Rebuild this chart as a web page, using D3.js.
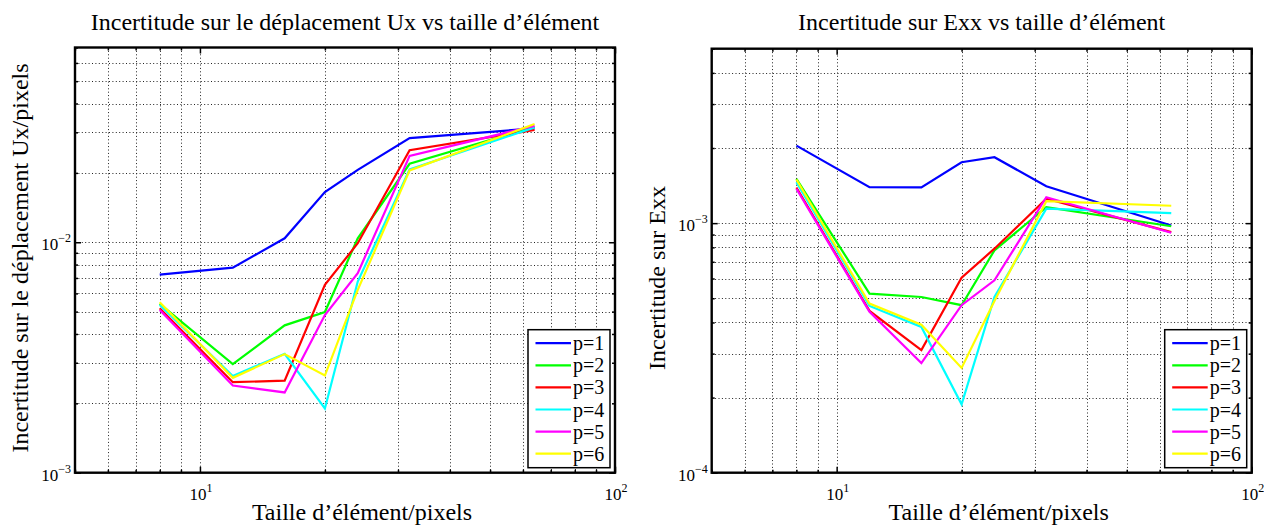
<!DOCTYPE html>
<html><head><meta charset="utf-8">
<script src="https://cdn.jsdelivr.net/npm/d3@7"></script>
<style>
body{margin:0;background:#fff}
svg{display:block}
svg text{font-family:"Liberation Serif","Times New Roman",Times,serif !important;fill:#000}
</style>
</head><body>
<svg id="c" width="1264" height="526" font-family="Liberation Serif"></svg>
<script>
// ---- data ----
const sizes = [8, 12, 16, 20, 24, 32, 64];
const seriesLabels = ["p=1", "p=2", "p=3", "p=4", "p=5", "p=6"];
const seriesColors = ["#0000ff", "#00ff00", "#ff0000", "#00ffff", "#ff00ff", "#ffff00"];

const ux_p1 = [0.00723, 0.00776, 0.0104, 0.0165, 0.0206, 0.0283, 0.0312];
const ux_p2 = [0.0054, 0.00296, 0.00436, 0.00498, 0.0104, 0.0219, 0.0317];
const ux_p3 = [0.00517, 0.00247, 0.00251, 0.00653, 0.0099, 0.0251, 0.0307];
const ux_p4 = [0.00534, 0.00263, 0.00328, 0.0019, 0.00675, 0.0207, 0.0315];
const ux_p5 = [0.00508, 0.00239, 0.00223, 0.00483, 0.00734, 0.0237, 0.032];
const ux_p6 = [0.00549, 0.00258, 0.00327, 0.00264, 0.00621, 0.0205, 0.0326];

const exx_p1 = [0.002045, 0.001393, 0.00139, 0.001754, 0.001837, 0.001406, 0.000979];
const exx_p2 = [0.001505, 0.000522, 0.000506, 0.000469, 0.000778, 0.001159, 0.000972];
const exx_p3 = [0.00139, 0.000445, 0.00031, 0.000605, 0.00079, 0.001252, 0.00092];
const exx_p4 = [0.001459, 0.000466, 0.000384, 0.000188, 0.000506, 0.001142, 0.001096];
const exx_p5 = [0.001373, 0.000441, 0.000275, 0.000469, 0.00059, 0.00127, 0.000915];
const exx_p6 = [0.001495, 0.000476, 0.000392, 0.000263, 0.000488, 0.001225, 0.001174];

const xDomain = [5, 100];
const xTickExps = [1, 2];
const uxDomain = [1e-3, 7e-2];
const uxTickExps = [-3, -2];
const exxDomain = [1e-4, 5e-3];
const exxTickExps = [-4, -3];

const titles = ["Incertitude sur le déplacement Ux vs taille d’élément", "Incertitude sur Exx vs taille d’élément"];
const yLabels = ["Incertitude sur le déplacement Ux/pixels", "Incertitude sur Exx"];
const xLabel = "Taille d’élément/pixels";

// ---- drawing ----
const FONT = '"Liberation Serif","Times New Roman",Times,serif';
const svg = d3.select("#c");

function txt(parent, size) {
  return parent.append("text").attr("font-family", FONT).attr("font-size", size)
    .style("font-family", FONT).attr("fill", "#000");
}

function supLabel(sel, exp) {
  sel.append("tspan").text("10");
  sel.append("tspan").attr("dy", -8).attr("font-size", 12).text(String(exp).replace("-", "−"));
}

function drawPanel(p) {
  const g = svg.append("g");
  const x = d3.scaleLog().domain(xDomain).range([p.left, p.right]);
  const y = d3.scaleLog().domain(p.yDomain).range([p.bottom, p.top]);
  const isMajor = v => Math.abs(Math.log10(v) - Math.round(Math.log10(v))) < 1e-9;
  const xt = x.ticks().filter(v => v > xDomain[0] * 1.0001 && v < xDomain[1] * 0.9999);
  const yt = y.ticks().filter(v => v > p.yDomain[0] * 1.0001 && v < p.yDomain[1] * 0.9999);

  // grid (dotted)
  const grid = g.append("g").attr("stroke", "#222").attr("stroke-width", 1)
    .attr("stroke-dasharray", "1,2.4");
  grid.selectAll(".gx").data(xt).join("line")
    .attr("x1", d => Math.round(x(d)) + 0.5).attr("x2", d => Math.round(x(d)) + 0.5)
    .attr("y1", p.top).attr("y2", p.bottom);
  grid.selectAll(".gy").data(yt).join("line")
    .attr("y1", d => Math.round(y(d)) + 0.5).attr("y2", d => Math.round(y(d)) + 0.5)
    .attr("x1", p.left).attr("x2", p.right);

  // ticks via d3 axes (inward)
  const xAll = x.ticks(), yAll = y.ticks();
  const xMaj = xAll.filter(isMajor), xMin = xAll.filter(v => !isMajor(v));
  const yMaj = yAll.filter(isMajor), yMin = yAll.filter(v => !isMajor(v));
  const axes = [
    [d3.axisBottom(x).tickValues(xMaj).tickSize(-6), `translate(0,${p.bottom})`],
    [d3.axisBottom(x).tickValues(xMin).tickSize(-3), `translate(0,${p.bottom})`],
    [d3.axisTop(x).tickValues(xMaj).tickSize(-6), `translate(0,${p.top})`],
    [d3.axisTop(x).tickValues(xMin).tickSize(-3), `translate(0,${p.top})`],
    [d3.axisLeft(y).tickValues(yMaj).tickSize(-6), `translate(${p.left},0)`],
    [d3.axisLeft(y).tickValues(yMin).tickSize(-3), `translate(${p.left},0)`],
    [d3.axisRight(y).tickValues(yMaj).tickSize(-6), `translate(${p.right},0)`],
    [d3.axisRight(y).tickValues(yMin).tickSize(-3), `translate(${p.right},0)`]
  ];
  axes.forEach(([ax, tr]) => {
    const a = g.append("g").attr("transform", tr).call(ax.tickFormat(() => ""));
    a.select(".domain").remove();
    a.selectAll("text").remove();
    a.selectAll("line").attr("stroke", "#000").attr("stroke-width", 1.5);
  });

  // series lines
  const line = d3.line().x((d, i) => x(sizes[i])).y(d => y(d));
  g.append("g").attr("fill", "none").attr("stroke-width", 2.2).attr("stroke-linejoin", "miter")
    .selectAll("path").data(p.series).join("path")
    .attr("stroke", (d, i) => seriesColors[i]).attr("d", d => line(d));

  // box
  g.append("rect").attr("x", p.left).attr("y", p.top)
    .attr("width", p.right - p.left).attr("height", p.bottom - p.top)
    .attr("fill", "none").attr("stroke", "#000").attr("stroke-width", 2.4);

  // tick labels
  xTickExps.forEach(e => {
    const t = txt(g, 17).attr("x", x(Math.pow(10, e)) + 1).attr("y", p.bottom + 27)
      .attr("text-anchor", "middle");
    supLabel(t, e);
  });
  p.yExps.forEach(e => {
    const t = txt(g, 17).attr("x", p.left - 4).attr("y", y(Math.pow(10, e)) + 8)
      .attr("text-anchor", "end");
    supLabel(t, e);
  });

  // title, labels
  txt(g, 24).attr("x", (p.left + p.right) / 2).attr("y", 30)
    .attr("text-anchor", "middle").text(p.title);
  txt(g, 24).attr("x", (p.left + p.right) / 2 + 17).attr("y", 520)
    .attr("text-anchor", "middle").text(xLabel);
  txt(g, 24).attr("transform", `translate(${p.yLabelX},${p.yLabelY}) rotate(-90)`)
    .attr("text-anchor", "middle").text(p.yLabel);

  // legend
  const lw = 82, lh = 138;
  const lx = p.right - 5 - lw, ly = p.bottom - 5 - lh;
  const lg = g.append("g");
  lg.append("rect").attr("x", lx).attr("y", ly).attr("width", lw).attr("height", lh)
    .attr("fill", "#fff").attr("stroke", "#000").attr("stroke-width", 1.5);
  seriesLabels.forEach((s, i) => {
    const cy = ly + 13.5 + i * 22.1;
    lg.append("line").attr("x1", lx + 7.5).attr("x2", lx + 43).attr("y1", cy).attr("y2", cy)
      .attr("stroke", seriesColors[i]).attr("stroke-width", 2.2);
    txt(lg, 20).attr("x", lx + 45).attr("y", cy + 7).text(s);
  });
}

drawPanel({
  left: 75, right: 615, top: 47.5, bottom: 472.7,
  yDomain: uxDomain, yExps: uxTickExps,
  series: [ux_p1, ux_p2, ux_p3, ux_p4, ux_p5, ux_p6],
  title: titles[0], yLabel: yLabels[0], yLabelX: 28, yLabelY: 258
});
drawPanel({
  left: 711.7, right: 1251.7, top: 48.7, bottom: 472.7,
  yDomain: exxDomain, yExps: exxTickExps,
  series: [exx_p1, exx_p2, exx_p3, exx_p4, exx_p5, exx_p6],
  title: titles[1], yLabel: yLabels[1], yLabelX: 665, yLabelY: 278
});
</script>
</body></html>
